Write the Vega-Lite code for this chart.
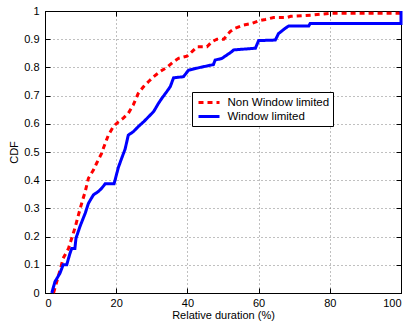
{
  "$schema": "https://vega.github.io/schema/vega-lite/v6.json",
  "width": 356,
  "height": 282,
  "autosize": "none",
  "padding": {"left": 45, "top": 11, "right": 10, "bottom": 29},
  "background": "white",
  "config": {
    "view": {"stroke": "black", "strokeWidth": 1},
    "font": "Liberation Sans",
    "axis": {
      "domainColor": "black",
      "tickColor": "black",
      "labelColor": "black",
      "titleColor": "black",
      "labelFont": "Liberation Sans",
      "titleFont": "Liberation Sans",
      "labelFontSize": 11,
      "titleFontSize": 11,
      "titleFontWeight": "normal",
      "gridColor": "#808080",
      "gridDash": [1, 3],
      "gridOpacity": 1
    }
  },
  "data": {
    "values": [
      {"s": "Non Window limited", "i": 1, "x": 2.4, "y": 0},
      {"s": "Non Window limited", "i": 2, "x": 4.2, "y": 0.08},
      {"s": "Non Window limited", "i": 3, "x": 5.1, "y": 0.123},
      {"s": "Non Window limited", "i": 4, "x": 6.6, "y": 0.158},
      {"s": "Non Window limited", "i": 5, "x": 7.5, "y": 0.194},
      {"s": "Non Window limited", "i": 6, "x": 8.4, "y": 0.23},
      {"s": "Non Window limited", "i": 7, "x": 9.4, "y": 0.277},
      {"s": "Non Window limited", "i": 8, "x": 10.3, "y": 0.318},
      {"s": "Non Window limited", "i": 9, "x": 11.3, "y": 0.36},
      {"s": "Non Window limited", "i": 10, "x": 12.2, "y": 0.407},
      {"s": "Non Window limited", "i": 11, "x": 13.6, "y": 0.436},
      {"s": "Non Window limited", "i": 12, "x": 14.5, "y": 0.46},
      {"s": "Non Window limited", "i": 13, "x": 15.9, "y": 0.495},
      {"s": "Non Window limited", "i": 14, "x": 16.4, "y": 0.513},
      {"s": "Non Window limited", "i": 15, "x": 17.8, "y": 0.56},
      {"s": "Non Window limited", "i": 16, "x": 19.2, "y": 0.59},
      {"s": "Non Window limited", "i": 17, "x": 20.6, "y": 0.607},
      {"s": "Non Window limited", "i": 18, "x": 22.0, "y": 0.62},
      {"s": "Non Window limited", "i": 19, "x": 23.4, "y": 0.637},
      {"s": "Non Window limited", "i": 20, "x": 24.8, "y": 0.667},
      {"s": "Non Window limited", "i": 21, "x": 26.2, "y": 0.708},
      {"s": "Non Window limited", "i": 22, "x": 27.7, "y": 0.732},
      {"s": "Non Window limited", "i": 23, "x": 29.1, "y": 0.75},
      {"s": "Non Window limited", "i": 24, "x": 30.5, "y": 0.767},
      {"s": "Non Window limited", "i": 25, "x": 32.3, "y": 0.785},
      {"s": "Non Window limited", "i": 26, "x": 34.2, "y": 0.8},
      {"s": "Non Window limited", "i": 27, "x": 36.1, "y": 0.82},
      {"s": "Non Window limited", "i": 28, "x": 37.5, "y": 0.832},
      {"s": "Non Window limited", "i": 29, "x": 39.9, "y": 0.84},
      {"s": "Non Window limited", "i": 30, "x": 41.3, "y": 0.856},
      {"s": "Non Window limited", "i": 31, "x": 42.7, "y": 0.873},
      {"s": "Non Window limited", "i": 32, "x": 45.5, "y": 0.873},
      {"s": "Non Window limited", "i": 33, "x": 46.9, "y": 0.891},
      {"s": "Non Window limited", "i": 34, "x": 48.3, "y": 0.9},
      {"s": "Non Window limited", "i": 35, "x": 50.2, "y": 0.9},
      {"s": "Non Window limited", "i": 36, "x": 52.0, "y": 0.927},
      {"s": "Non Window limited", "i": 37, "x": 53.4, "y": 0.939},
      {"s": "Non Window limited", "i": 38, "x": 55.8, "y": 0.95},
      {"s": "Non Window limited", "i": 39, "x": 58.1, "y": 0.956},
      {"s": "Non Window limited", "i": 40, "x": 60.0, "y": 0.965},
      {"s": "Non Window limited", "i": 41, "x": 61.9, "y": 0.97},
      {"s": "Non Window limited", "i": 42, "x": 64.2, "y": 0.977},
      {"s": "Non Window limited", "i": 43, "x": 68.0, "y": 0.977},
      {"s": "Non Window limited", "i": 44, "x": 69.0, "y": 0.981},
      {"s": "Non Window limited", "i": 45, "x": 75.5, "y": 0.986},
      {"s": "Non Window limited", "i": 46, "x": 80.2, "y": 0.992},
      {"s": "Non Window limited", "i": 47, "x": 100, "y": 0.992},
      {"s": "Non Window limited", "i": 48, "x": 100, "y": 1},
      {"s": "Window limited", "i": 101, "x": 1.9, "y": 0},
      {"s": "Window limited", "i": 102, "x": 2.8, "y": 0.04},
      {"s": "Window limited", "i": 103, "x": 4.2, "y": 0.07},
      {"s": "Window limited", "i": 104, "x": 5.1, "y": 0.1},
      {"s": "Window limited", "i": 105, "x": 6.1, "y": 0.1},
      {"s": "Window limited", "i": 106, "x": 7.0, "y": 0.14},
      {"s": "Window limited", "i": 107, "x": 7.5, "y": 0.158},
      {"s": "Window limited", "i": 108, "x": 8.4, "y": 0.158},
      {"s": "Window limited", "i": 109, "x": 8.7, "y": 0.194},
      {"s": "Window limited", "i": 110, "x": 9.8, "y": 0.235},
      {"s": "Window limited", "i": 111, "x": 11.3, "y": 0.283},
      {"s": "Window limited", "i": 112, "x": 12.2, "y": 0.318},
      {"s": "Window limited", "i": 113, "x": 13.6, "y": 0.348},
      {"s": "Window limited", "i": 114, "x": 15.0, "y": 0.36},
      {"s": "Window limited", "i": 115, "x": 15.9, "y": 0.371},
      {"s": "Window limited", "i": 116, "x": 16.9, "y": 0.387},
      {"s": "Window limited", "i": 117, "x": 19.4, "y": 0.387},
      {"s": "Window limited", "i": 118, "x": 20.6, "y": 0.445},
      {"s": "Window limited", "i": 119, "x": 21.6, "y": 0.48},
      {"s": "Window limited", "i": 120, "x": 22.5, "y": 0.51},
      {"s": "Window limited", "i": 121, "x": 23.4, "y": 0.56},
      {"s": "Window limited", "i": 122, "x": 24.8, "y": 0.572},
      {"s": "Window limited", "i": 123, "x": 26.2, "y": 0.59},
      {"s": "Window limited", "i": 124, "x": 27.7, "y": 0.607},
      {"s": "Window limited", "i": 125, "x": 29.1, "y": 0.625},
      {"s": "Window limited", "i": 126, "x": 30.5, "y": 0.643},
      {"s": "Window limited", "i": 127, "x": 31.9, "y": 0.673},
      {"s": "Window limited", "i": 128, "x": 32.8, "y": 0.69},
      {"s": "Window limited", "i": 129, "x": 34.2, "y": 0.714},
      {"s": "Window limited", "i": 130, "x": 35.2, "y": 0.732},
      {"s": "Window limited", "i": 131, "x": 36.1, "y": 0.763},
      {"s": "Window limited", "i": 132, "x": 38.9, "y": 0.767},
      {"s": "Window limited", "i": 133, "x": 40.3, "y": 0.79},
      {"s": "Window limited", "i": 134, "x": 43.6, "y": 0.8},
      {"s": "Window limited", "i": 135, "x": 47.3, "y": 0.81},
      {"s": "Window limited", "i": 136, "x": 47.8, "y": 0.826},
      {"s": "Window limited", "i": 137, "x": 49.7, "y": 0.832},
      {"s": "Window limited", "i": 138, "x": 52.5, "y": 0.856},
      {"s": "Window limited", "i": 139, "x": 53.0, "y": 0.862},
      {"s": "Window limited", "i": 140, "x": 59.1, "y": 0.868},
      {"s": "Window limited", "i": 141, "x": 60.0, "y": 0.895},
      {"s": "Window limited", "i": 142, "x": 64.7, "y": 0.897},
      {"s": "Window limited", "i": 143, "x": 65.6, "y": 0.92},
      {"s": "Window limited", "i": 144, "x": 67.5, "y": 0.939},
      {"s": "Window limited", "i": 145, "x": 68.5, "y": 0.947},
      {"s": "Window limited", "i": 146, "x": 74.1, "y": 0.947},
      {"s": "Window limited", "i": 147, "x": 74.5, "y": 0.956},
      {"s": "Window limited", "i": 148, "x": 100, "y": 0.956},
      {"s": "Window limited", "i": 149, "x": 100, "y": 1}
    ]
  },
  "layer": [
    {
      "mark": {"type": "line", "strokeWidth": 3, "strokeCap": "butt", "clip": false},
      "encoding": {
        "x": {
          "field": "x", "type": "quantitative",
          "scale": {"domain": [0, 100], "nice": false, "zero": false},
          "axis": {
            "orient": "bottom",
            "values": [0, 20, 40, 60, 80, 100],
            "title": "Relative duration (%)",
            "tickSize": -5,
            "labelPadding": 9,
            "titlePadding": 1,
            "grid": true
          }
        },
        "y": {
          "field": "y", "type": "quantitative",
          "scale": {"domain": [0, 1], "nice": false},
          "axis": {
            "orient": "left",
            "values": [0, 0.1, 0.2, 0.3, 0.4, 0.5, 0.6, 0.7, 0.8, 0.9, 1],
            "format": ".1~f",
            "title": "CDF",
            "tickSize": -5,
            "labelPadding": 11,
            "titlePadding": 4,
            "grid": true
          }
        },
        "order": {"field": "i", "type": "quantitative"},
        "color": {
          "field": "s", "type": "nominal",
          "scale": {"domain": ["Non Window limited", "Window limited"], "range": ["#ff0000", "#0000ff"]},
          "legend": {
            "title": null,
            "orient": "none",
            "legendX": 147,
            "legendY": 81,
            "symbolType": "M-1.75,0H1.75",
            "symbolSize": 144,
            "symbolOffset": 6.5,
            "symbolStrokeWidth": 3,
            "labelFont": "Liberation Sans",
            "labelFontSize": 11.5,
            "labelColor": "black",
            "strokeColor": "black",
            "fillColor": "white",
            "padding": 3,
            "rowPadding": 0,
            "labelOffset": 11
          }
        },
        "strokeDash": {
          "field": "s", "type": "nominal",
          "scale": {"domain": ["Non Window limited", "Window limited"], "range": [[5, 4], [1, 0]]},
          "legend": null
        }
      }
    },
    {
      "mark": {"type": "line", "opacity": 0},
      "encoding": {
        "x": {
          "field": "x", "type": "quantitative",
          "axis": {"orient": "top", "values": [0, 20, 40, 60, 80, 100], "labels": false, "title": null, "tickSize": -5, "grid": false}
        },
        "y": {
          "field": "y", "type": "quantitative",
          "axis": {"orient": "right", "values": [0, 0.1, 0.2, 0.3, 0.4, 0.5, 0.6, 0.7, 0.8, 0.9, 1], "labels": false, "title": null, "tickSize": -5, "grid": false}
        }
      }
    }
  ],
  "resolve": {"axis": {"x": "independent", "y": "independent"}}
}
